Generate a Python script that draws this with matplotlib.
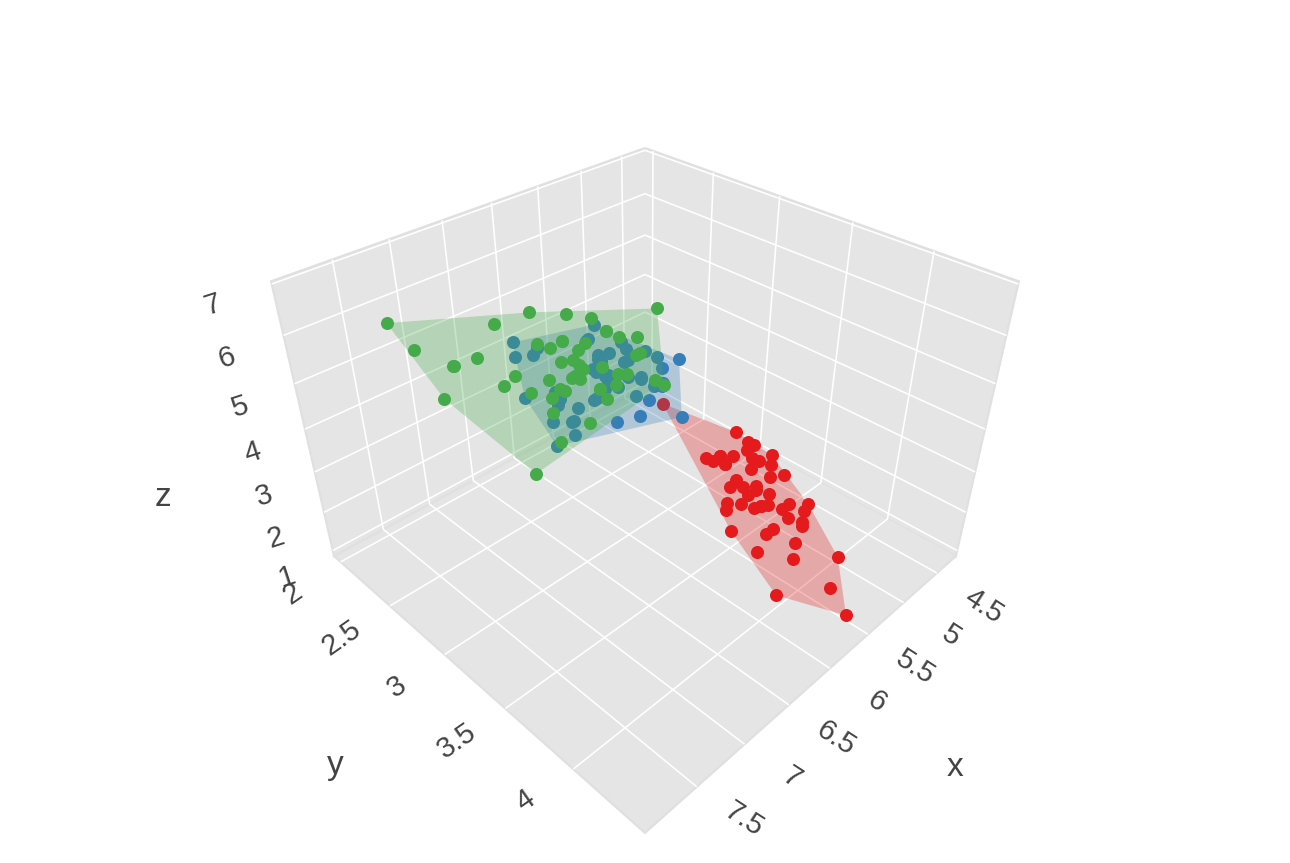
from itertools import combinations
import numpy as np
import matplotlib
matplotlib.use("Agg")
import matplotlib.pyplot as plt
from mpl_toolkits.mplot3d.art3d import Poly3DCollection
from mpl_toolkits.mplot3d import proj3d

# iris: sepal length (x), sepal width (y), petal length (z)
setosa_x = [5.1,4.9,4.7,4.6,5.0,5.4,4.6,5.0,4.4,4.9,5.4,4.8,4.8,4.3,5.8,5.7,5.4,5.1,5.7,5.1,5.4,5.1,4.6,5.1,4.8,5.0,5.0,5.2,5.2,4.7,4.8,5.4,5.2,5.5,4.9,5.0,5.5,4.9,4.4,5.1,5.0,4.5,4.4,5.0,5.1,4.8,5.1,4.6,5.3,5.0]
setosa_y = [3.5,3.0,3.2,3.1,3.6,3.9,3.4,3.4,2.9,3.1,3.7,3.4,3.0,3.0,4.0,4.4,3.9,3.5,3.8,3.8,3.4,3.7,3.6,3.3,3.4,3.0,3.4,3.5,3.4,3.2,3.1,3.4,4.1,4.2,3.1,3.2,3.5,3.6,3.0,3.4,3.5,2.3,3.2,3.5,3.8,3.0,3.8,3.2,3.7,3.3]
setosa_z = [1.4,1.4,1.3,1.5,1.4,1.7,1.4,1.5,1.4,1.5,1.5,1.6,1.4,1.1,1.2,1.5,1.3,1.4,1.7,1.5,1.7,1.5,1.0,1.7,1.9,1.6,1.6,1.5,1.4,1.6,1.6,1.5,1.5,1.4,1.5,1.2,1.3,1.4,1.3,1.5,1.3,1.3,1.3,1.6,1.9,1.4,1.6,1.4,1.5,1.4]

versicolor_x = [7.0,6.4,6.9,5.5,6.5,5.7,6.3,4.9,6.6,5.2,5.0,5.9,6.0,6.1,5.6,6.7,5.6,5.8,6.2,5.6,5.9,6.1,6.3,6.1,6.4,6.6,6.8,6.7,6.0,5.7,5.5,5.5,5.8,6.0,5.4,6.0,6.7,6.3,5.6,5.5,5.5,6.1,5.8,5.0,5.6,5.7,5.7,6.2,5.1,5.7]
versicolor_y = [3.2,3.2,3.1,2.3,2.8,2.8,3.3,2.4,2.9,2.7,2.0,3.0,2.2,2.9,2.9,3.1,3.0,2.7,2.2,2.5,3.2,2.8,2.5,2.8,2.9,3.0,2.8,3.0,2.9,2.6,2.4,2.4,2.7,2.7,3.0,3.4,3.1,2.3,3.0,2.5,2.6,3.0,2.6,2.3,2.7,3.0,2.9,2.9,2.5,2.8]
versicolor_z = [4.7,4.5,4.9,4.0,4.6,4.5,4.7,3.3,4.6,3.9,3.5,4.2,4.0,4.7,3.6,4.4,4.5,4.1,4.5,3.9,4.8,4.0,4.9,4.7,4.3,4.4,4.8,5.0,4.5,3.5,3.8,3.7,3.9,5.1,4.5,4.5,4.7,4.4,4.1,4.0,4.4,4.6,4.0,3.3,4.2,4.2,4.2,4.3,3.0,4.1]

virginica_x = [6.3,5.8,7.1,6.3,6.5,7.6,4.9,7.3,6.7,7.2,6.5,6.4,6.8,5.7,5.8,6.4,6.5,7.7,7.7,6.0,6.9,5.6,7.7,6.3,6.7,7.2,6.2,6.1,6.4,7.2,7.4,7.9,6.4,6.3,6.1,7.7,6.3,6.4,6.0,6.9,6.7,6.9,5.8,6.8,6.7,6.7,6.3,6.5,6.2,5.9]
virginica_y = [3.3,2.7,3.0,2.9,3.0,3.0,2.5,2.9,2.5,3.6,3.2,2.7,3.0,2.5,2.8,3.2,3.0,3.8,2.6,2.2,3.2,2.8,2.8,2.7,3.3,3.2,2.8,3.0,2.8,3.0,2.8,3.8,2.8,2.8,2.6,3.0,3.4,3.1,3.0,3.1,3.1,3.1,2.7,3.2,3.3,3.0,2.5,3.0,3.4,3.0]
virginica_z = [6.0,5.1,5.9,5.6,5.8,6.6,4.5,6.3,5.8,6.1,5.1,5.3,5.5,5.0,5.1,5.3,5.5,6.7,6.9,5.0,5.7,4.9,6.7,4.9,5.7,6.0,4.8,4.9,5.6,5.8,6.1,6.4,5.6,5.1,5.6,6.1,5.6,5.5,4.8,5.4,5.6,5.1,5.1,5.9,5.7,5.2,5.0,5.2,5.4,5.1]

x_ticks = [4.5, 5, 5.5, 6, 6.5, 7, 7.5]
y_ticks = [2, 2.5, 3, 3.5, 4]
z_ticks = [1, 2, 3, 4, 5, 6, 7]

TEXT = "#444444"
FONT = "Liberation Sans"


def chain_2d(p):
    # monotone chain, returns the indices of the outline
    order = sorted(range(len(p)), key=lambda i: (p[i][0], p[i][1]))
    def half(seq):
        out = []
        for i in seq:
            while len(out) > 1:
                a, b = p[out[-2]], p[out[-1]]
                if (b[0]-a[0])*(p[i][1]-a[1]) - (b[1]-a[1])*(p[i][0]-a[0]) > 1e-9:
                    break
                out.pop()
            out.append(i)
        return out[:-1]
    return half(order) + half(order[::-1])


def hull_faces(xs, ys, zs):
    # convex hull by testing every triple, coplanar points become one polygon
    pts = np.column_stack([xs, ys, zs])
    faces = {}
    for i, j, k in combinations(range(len(pts)), 3):
        n = np.cross(pts[j] - pts[i], pts[k] - pts[i])
        size = np.linalg.norm(n)
        if size < 1e-9:
            continue
        n = n / size
        d = (pts - pts[i]) @ n
        if d.max() > 1e-7 and d.min() < -1e-7:
            continue
        if d.max() > 1e-7:
            n = -n
        key = tuple(np.round(n, 5))
        if key in faces:
            continue
        on = pts[np.abs(d) < 1e-7]
        u = pts[j] - pts[i]
        u = u / np.linalg.norm(u)
        v = np.cross(n, u)
        flat = np.column_stack([on @ u, on @ v])
        faces[key] = on[chain_2d(flat)]
    return list(faces.values())


fig = plt.figure(figsize=(12.9, 8.63), dpi=100)
W, H = 1290, 863
ax = fig.add_axes([201.8 / W, -11.5 / H, 863 / W, 863 / H], projection="3d", computed_zorder=False)
ax.set_proj_type("persp", focal_length=0.2245)
ax.view_init(elev=35.26, azim=45)
ax.set_box_aspect((1, 1, 0.695), zoom=0.851)
ax.set_xlim(4.2, 8.0)
ax.set_ylim(1.93, 4.47)
ax.set_zlim(0.85, 7.05)
ax.set_xticks(x_ticks)
ax.set_yticks(y_ticks)
ax.set_zticks(z_ticks)
ax.set_xticklabels([])
ax.set_yticklabels([])
ax.set_zticklabels([])
ax.tick_params(axis="both", colors=(0, 0, 0, 0))
for axis in (ax.xaxis, ax.yaxis, ax.zaxis):
    axis.set_pane_color("#e5e5e5")
    axis.pane.set_edgecolor("#e0e0e0")
    axis.pane.set_linewidth(1.6)
    axis.line.set_color((0, 0, 0, 0))
    axis._axinfo["grid"].update(color="white", linewidth=1.15)
    axis._axinfo["tick"].update(inward_factor=0, outward_factor=0)

species = [
    (setosa_x, setosa_y, setosa_z, "#e41a1c"),
    (versicolor_x, versicolor_y, versicolor_z, "#377eb8"),
    (virginica_x, virginica_y, virginica_z, "#45ab4a"),
]
z = 1
for xs, ys, zs, col in species:
    mesh = Poly3DCollection(hull_faces(xs, ys, zs), facecolors=col, edgecolors="none",
                            linewidths=0, alpha=0.16, zorder=z)
    ax.add_collection3d(mesh)
    ax.scatter(xs, ys, zs, s=88, c=col, linewidths=0, depthshade=False, alpha=1, zorder=z + 1)
    z += 2

M = ax.get_proj()


def tick_label(x, y, z, s, dx, dy, rot):
    px, py, _ = proj3d.proj_transform(x, y, z, M)
    ax.annotate(s, xy=(px, py), xycoords="data", xytext=(dx, -dy), textcoords="offset pixels",
                rotation=rot, rotation_mode="anchor", ha="center", va="center",
                fontsize=21, color=TEXT, family=FONT, annotation_clip=False, zorder=20)


for t in x_ticks:
    tick_label(t, 4.47, 0.85, f"{t:g}", 47, 33, -33)
for t in y_ticks:
    tick_label(8.0, t, 0.85, f"{t:g}", -48, 32, 35)
for t in z_ticks:
    tick_label(8.0, 1.93, t, f"{t:g}", -46 - 2.1 * (t - 1), 26 - 0.8 * (t - 1), 18)

fig.text(955 / W, 1 - 767 / H, "x", ha="center", va="center", fontsize=24, color=TEXT, family=FONT)
fig.text(335 / W, 1 - 765 / H, "y", ha="center", va="center", fontsize=24, color=TEXT, family=FONT)
fig.text(163 / W, 1 - 497 / H, "z", ha="center", va="center", fontsize=24, color=TEXT, family=FONT)

fig.savefig("out.png", dpi=100)
